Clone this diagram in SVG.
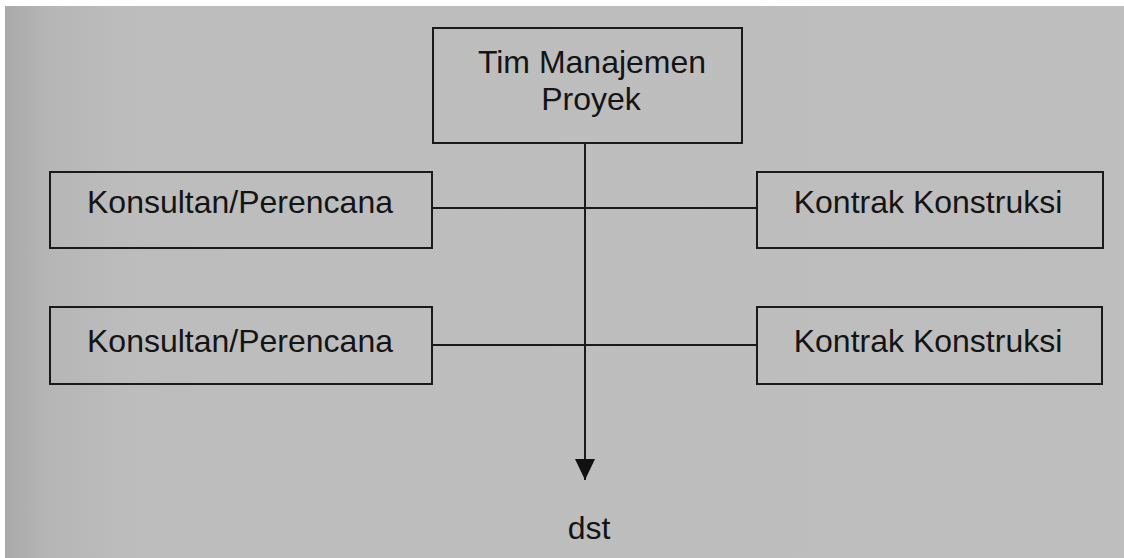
<svg xmlns="http://www.w3.org/2000/svg" width="1124" height="558" viewBox="0 0 1124 558">
  <defs>
    <linearGradient id="bg" x1="0" y1="0" x2="1" y2="0">
      <stop offset="0" stop-color="#a9a9a9"/>
      <stop offset="0.04" stop-color="#b6b6b6"/>
      <stop offset="0.12" stop-color="#bdbdbd"/>
      <stop offset="1" stop-color="#bebebe"/>
    </linearGradient>
    <marker id="arrow" viewBox="0 0 21 20" refX="21" refY="10" markerWidth="21" markerHeight="20" markerUnits="userSpaceOnUse" orient="auto">
      <path d="M0,0 L21,10 L0,20 Z" fill="#111"/>
    </marker>
  </defs>
  <style>
    .box { fill: none; stroke: #1a1a1a; stroke-width: 2; }
    .lbl { font-family: "Liberation Sans", Arial, sans-serif; font-size: 32px; fill: #141414; text-anchor: middle; }
    .conn { stroke: #1a1a1a; stroke-width: 2; fill: none; }
  </style>
  <rect x="0" y="0" width="1124" height="558" fill="#ffffff"/>
  <rect x="5" y="6" width="1119" height="552" fill="url(#bg)"/>

  <g id="connectors">
    <line class="conn" x1="432" y1="208" x2="757" y2="208"/>
    <line class="conn" x1="432" y1="345" x2="757" y2="345"/>
    <line class="conn" x1="585" y1="143" x2="585" y2="480" marker-end="url(#arrow)"/>
  </g>

  <g id="tim">
    <rect class="box" x="433" y="28" width="309" height="115"/>
    <text class="lbl" x="592" y="73">Tim Manajemen</text>
    <text class="lbl" x="591" y="110">Proyek</text>
  </g>

  <g id="konsultan1">
    <rect class="box" x="50" y="172" width="382" height="76"/>
    <text class="lbl" x="240" y="213">Konsultan/Perencana</text>
  </g>

  <g id="kontrak1">
    <rect class="box" x="757" y="172" width="346" height="76"/>
    <text class="lbl" x="928" y="213">Kontrak Konstruksi</text>
  </g>

  <g id="konsultan2">
    <rect class="box" x="50" y="307" width="382" height="77"/>
    <text class="lbl" x="240" y="352">Konsultan/Perencana</text>
  </g>

  <g id="kontrak2">
    <rect class="box" x="757" y="307" width="345" height="77"/>
    <text class="lbl" x="928" y="352">Kontrak Konstruksi</text>
  </g>

  <g id="dst">
    <text class="lbl" x="589" y="539">dst</text>
  </g>
</svg>
